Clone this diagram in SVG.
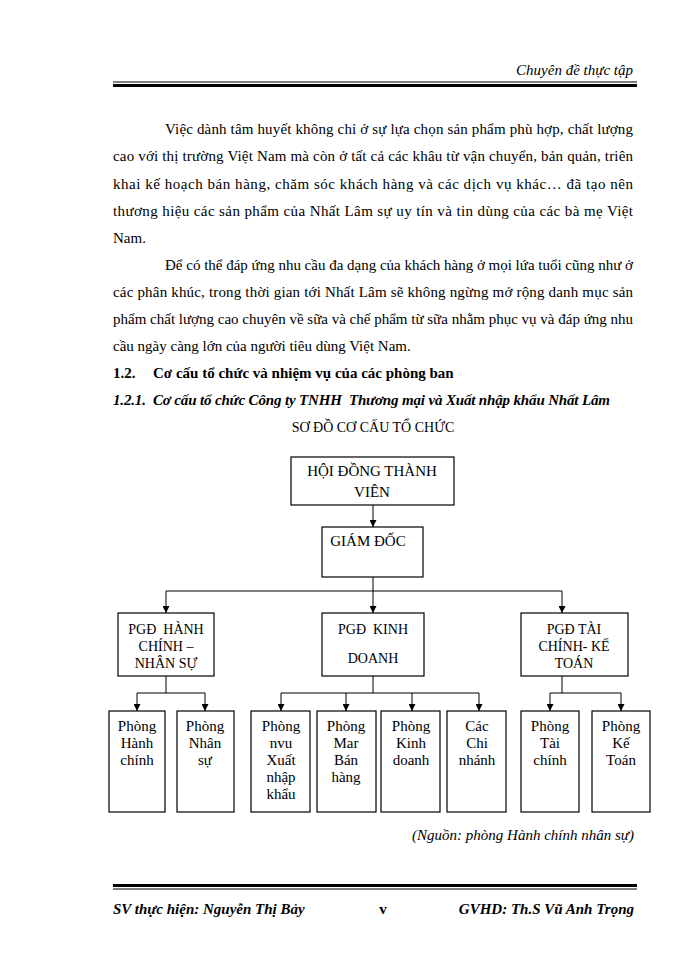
<svg xmlns="http://www.w3.org/2000/svg" width="700" height="960" viewBox="0 0 700 960">
<defs>
<marker id="ah" viewBox="0 0 10 10" refX="10" refY="5" markerWidth="7" markerHeight="7" orient="auto" markerUnits="userSpaceOnUse">
<path d="M0,0 L10,5 L0,10 z" fill="#000"/>
</marker>
</defs>
<style>
text{font-family:"Liberation Serif","Times New Roman",serif;fill:#000}
.b{font-size:15px}
.it{font-style:italic}
.bd{font-weight:bold}
.box{fill:#fff;stroke:#000;stroke-width:1.2}
.t{font-size:15px;text-anchor:middle}
.t2{font-size:14px;text-anchor:middle}
.c{fill:none;stroke:#000;stroke-width:1}
.ca{fill:none;stroke:#000;stroke-width:1;marker-end:url(#ah)}
</style>
<rect width="700" height="960" fill="#fff"/>
<!-- header -->
<text x="633" y="75" class="b it" text-anchor="end">Chuyên đề thực tập</text>
<line x1="113" y1="82" x2="637" y2="82" stroke="#000" stroke-width="1"/>
<line x1="113" y1="85.5" x2="637" y2="85.5" stroke="#000" stroke-width="3"/>
<!-- paragraph 1 -->
<text class="b" x="165" y="134" textLength="468" lengthAdjust="spacing">Việc dành tâm huyết không chỉ ở sự lựa chọn sản phẩm phù hợp, chất lượng</text>
<text class="b" x="113" y="161" textLength="520" lengthAdjust="spacing">cao với thị trường Việt Nam mà còn ở tất cả các khâu từ vận chuyển, bản quản, triên</text>
<text class="b" x="113" y="189" textLength="520" lengthAdjust="spacing">khai kế hoạch bán hàng, chăm sóc khách hàng và các dịch vụ khác… đã tạo nên</text>
<text class="b" x="113" y="216" textLength="520" lengthAdjust="spacing">thương hiệu các sản phẩm của Nhất Lâm sự uy tín và tin dùng của các bà mẹ Việt</text>
<text class="b" x="113" y="243">Nam.</text>
<!-- paragraph 2 -->
<text class="b" x="165" y="270" textLength="468" lengthAdjust="spacing">Để có thể đáp ứng nhu cầu đa dạng của khách hàng ở mọi lứa tuổi cũng như ở</text>
<text class="b" x="113" y="297" textLength="520" lengthAdjust="spacing">các phân khúc, trong thời gian tới Nhất Lâm sẽ không ngừng mở rộng danh mục sản</text>
<text class="b" x="113" y="324" textLength="520" lengthAdjust="spacing">phẩm chất lượng cao chuyên về sữa và chế phẩm từ sữa nhằm phục vụ và đáp ứng nhu</text>
<text class="b" x="113" y="351">cầu ngày càng lớn của người tiêu dùng Việt Nam.</text>
<!-- headings -->
<text class="b bd" x="113" y="378">1.2.</text>
<text class="b bd" x="153" y="378">Cơ cấu tổ chức và nhiệm vụ của các phòng ban</text>
<text class="b bd it" x="113" y="405" xml:space="preserve" textLength="497" lengthAdjust="spacing">1.2.1.  Cơ cấu tổ chức Công ty TNHH  Thương mại và Xuất nhập khẩu Nhất Lâm</text>
<text class="t2" x="373" y="432">SƠ ĐỒ CƠ CẤU TỔ CHỨC</text>

<!-- connectors -->
<g id="connectors">
<path class="ca" d="M373,505 V527"/>
<path class="c" d="M373,577 V591"/>
<path class="c" d="M166,591 H562"/>
<path class="ca" d="M166,591 V613"/>
<path class="ca" d="M373,591 V613"/>
<path class="ca" d="M562,591 V613"/>
<path class="c" d="M166,676 V693 M137,693 H205"/>
<path class="ca" d="M137,693 V711"/>
<path class="ca" d="M205,693 V711"/>
<path class="c" d="M373,676 V693 M281,693 H479"/>
<path class="ca" d="M281,693 V711"/>
<path class="ca" d="M346,693 V711"/>
<path class="ca" d="M412,693 V711"/>
<path class="ca" d="M479,693 V711"/>
<path class="c" d="M562,676 V693 M550,693 H621"/>
<path class="ca" d="M550,693 V711"/>
<path class="ca" d="M621,693 V711"/>
</g>

<g id="hdtv">
<rect class="box" x="291" y="457" width="163" height="48"/>
<text class="t" x="372" y="476">HỘI ĐỒNG THÀNH</text>
<text class="t" x="372" y="497">VIÊN</text>
</g>
<g id="giamdoc">
<rect class="box" x="322" y="527" width="101" height="50"/>
<text class="t" x="368" y="546">GIÁM ĐỐC</text>
</g>
<g id="pgd-hcns">
<rect class="box" x="118" y="613" width="96" height="63"/>
<text class="t2" x="166" y="634" xml:space="preserve">PGĐ  HÀNH</text>
<text class="t2" x="166" y="651">CHÍNH –</text>
<text class="t2" x="166" y="668">NHÂN SỰ</text>
</g>
<g id="pgd-kd">
<rect class="box" x="322" y="613" width="102" height="63"/>
<text class="t2" x="373" y="634" xml:space="preserve">PGĐ  KINH</text>
<text class="t2" x="373" y="663">DOANH</text>
</g>
<g id="pgd-tckt">
<rect class="box" x="521" y="613" width="107" height="63"/>
<text class="t2" x="574" y="634">PGĐ TÀI</text>
<text class="t2" x="574" y="651">CHÍNH- KẾ</text>
<text class="t2" x="574" y="668">TOÁN</text>
</g>

<g id="p-hanhchinh">
<rect class="box" x="109" y="711" width="56" height="101"/>
<text class="t" x="137" y="731">Phòng</text>
<text class="t" x="137" y="748">Hành</text>
<text class="t" x="137" y="765">chính</text>
</g>
<g id="p-nhansu">
<rect class="box" x="177" y="711" width="57" height="101"/>
<text class="t" x="205" y="731">Phòng</text>
<text class="t" x="205" y="748">Nhân</text>
<text class="t" x="205" y="765">sự</text>
</g>
<g id="p-xnk">
<rect class="box" x="251" y="711" width="59" height="101"/>
<text class="t" x="281" y="731">Phòng</text>
<text class="t" x="281" y="748">nvu</text>
<text class="t" x="281" y="765">Xuất</text>
<text class="t" x="281" y="782">nhập</text>
<text class="t" x="281" y="799">khẩu</text>
</g>
<g id="p-mar">
<rect class="box" x="317" y="711" width="59" height="101"/>
<text class="t" x="346" y="731">Phòng</text>
<text class="t" x="346" y="748">Mar</text>
<text class="t" x="346" y="765">Bán</text>
<text class="t" x="346" y="782">hàng</text>
</g>
<g id="p-kinhdoanh">
<rect class="box" x="381" y="711" width="59" height="101"/>
<text class="t" x="411" y="731">Phòng</text>
<text class="t" x="411" y="748">Kinh</text>
<text class="t" x="411" y="765">doanh</text>
</g>
<g id="p-chinhanh">
<rect class="box" x="447" y="711" width="59" height="101"/>
<text class="t" x="477" y="731">Các</text>
<text class="t" x="477" y="748">Chi</text>
<text class="t" x="477" y="765">nhánh</text>
</g>
<g id="p-taichinh">
<rect class="box" x="521" y="711" width="58" height="101"/>
<text class="t" x="550" y="731">Phòng</text>
<text class="t" x="550" y="748">Tài</text>
<text class="t" x="550" y="765">chính</text>
</g>
<g id="p-ketoan">
<rect class="box" x="592" y="711" width="58" height="101"/>
<text class="t" x="621" y="731">Phòng</text>
<text class="t" x="621" y="748">Kế</text>
<text class="t" x="621" y="765">Toán</text>
</g>

<text class="b it" x="634" y="840" text-anchor="end">(Nguồn: phòng Hành chính nhân sự)</text>

<!-- footer -->
<line x1="113" y1="885.5" x2="637" y2="885.5" stroke="#000" stroke-width="3"/>
<line x1="113" y1="889" x2="637" y2="889" stroke="#000" stroke-width="1"/>
<text class="b bd it" x="113" y="914">SV thực hiện: Nguyễn Thị Bảy</text>
<text class="b bd" x="383" y="914" text-anchor="middle">v</text>
<text class="b bd it" x="634" y="914" text-anchor="end">GVHD: Th.S Vũ Anh Trọng</text>
</svg>
